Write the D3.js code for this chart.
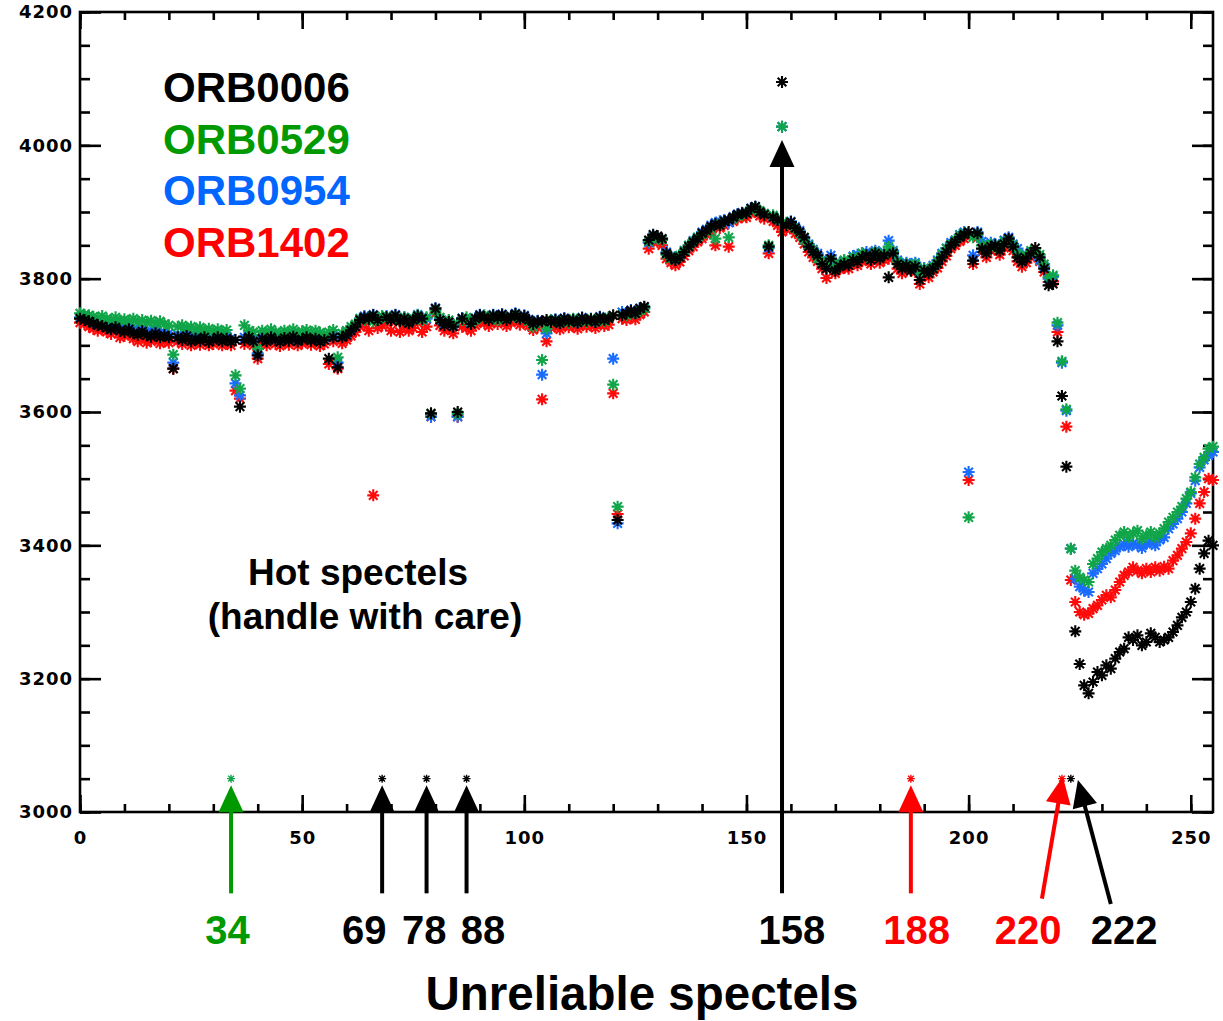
<!DOCTYPE html>
<html>
<head>
<meta charset="utf-8">
<script src="https://cdn.jsdelivr.net/npm/d3@7"></script>
<style>
  body { margin: 0; background: #fff; }
  text { font-family: "Liberation Sans", Arial, sans-serif; }
  .tick text { font-family: "DejaVu Sans", sans-serif; }
</style>
</head>
<body>
<svg id="spectels" width="1223" height="1021"></svg>
<script>

// ---- data, one value per spectel (0..255) ----
var orb0006 = [
 3740,3738,3736,3733,3730,3729,3726,3724,3727,3722,
 3720,3724,3718,3716,3721,3715,3713,3718,3712,3715,
 3712,3665,3712,3708,3714,3706,3710,3707,3712,3705,
 3708,3712,3706,3710,3705,3708,3608,3708,3712,3706,
 3685,3710,3706,3712,3708,3705,3711,3707,3713,3706,
 3709,3712,3707,3710,3705,3708,3680,3712,3667,3712,
 3715,3722,3728,3738,3742,3740,3745,3738,3050,3742,
 3738,3745,3736,3740,3733,3738,3744,3740,3050,3598,
 3755,3738,3730,3735,3728,3600,3740,3050,3732,3740,
 3745,3742,3738,3745,3741,3746,3738,3743,3747,3740,
 3744,3738,3732,3736,3736,3738,3735,3738,3733,3740,
 3736,3738,3734,3741,3737,3739,3735,3742,3738,3740,
 3745,3438,3745,3748,3752,3748,3755,3758,3858,3866,
 3864,3860,3838,3832,3828,3832,3840,3848,3855,3860,
 3868,3872,3878,3882,3880,3886,3888,3892,3896,3898,
 3898,3905,3908,3900,3896,3848,3892,3888,4095,3880,
 3885,3876,3870,3862,3848,3840,3835,3822,3815,3830,
 3812,3818,3822,3820,3828,3825,3832,3835,3828,3838,
 3830,3835,3802,3838,3822,3815,3820,3812,3818,3798,
 3812,3808,3815,3822,3832,3840,3850,3855,3862,3866,
 3870,3827,3868,3845,3838,3848,3850,3842,3852,3860,
 3848,3832,3825,3830,3838,3846,3832,3815,3790,3792,
 3706,3624,3518,3050,3271,3222,3190,3178,3195,3210,
 3205,3220,3215,3230,3240,3245,3262,3258,3265,3250,
 3255,3268,3262,3255,3258,3262,3270,3280,3292,3300,
 3315,3335,3365,3388,3407,3400
];

var orb0529 = [
 3748,3746,3745,3743,3741,3744,3740,3738,3742,3737,
 3739,3736,3740,3735,3738,3734,3737,3733,3736,3732,
 3730,3686,3728,3730,3726,3728,3724,3727,3722,3725,
 3721,3724,3720,3723,3050,3655,3635,3730,3722,3720,
 3695,3722,3718,3724,3720,3717,3722,3719,3724,3718,
 3721,3723,3718,3722,3719,3716,3720,3723,3682,3718,
 3722,3728,3732,3740,3738,3742,3736,3740,3744,3740,
 3742,3740,3738,3742,3736,3740,3745,3738,3742,3597,
 3752,3742,3735,3738,3732,3597,3738,3742,3735,3738,
 3742,3745,3740,3743,3738,3744,3740,3741,3745,3742,
 3740,3736,3728,3735,3678,3725,3738,3736,3735,3738,
 3734,3740,3736,3738,3735,3740,3737,3739,3736,3742,
 3641,3458,3746,3745,3750,3748,3752,3755,3856,3862,
 3860,3858,3836,3830,3832,3835,3842,3850,3856,3862,
 3866,3870,3875,3860,3882,3886,3862,3890,3894,3896,
 3900,3902,3906,3902,3898,3850,3895,3890,4028,3884,
 3880,3875,3868,3858,3850,3842,3830,3826,3820,3828,
 3816,3822,3828,3826,3832,3830,3838,3832,3835,3840,
 3834,3838,3848,3840,3826,3820,3822,3818,3822,3808,
 3815,3812,3818,3826,3836,3845,3852,3858,3865,3868,
 3442,3862,3866,3850,3842,3852,3848,3846,3856,3858,
 3850,3838,3830,3835,3842,3840,3836,3822,3802,3805,
 3734,3676,3604,3395,3362,3352,3348,3345,3372,3380,
 3390,3395,3400,3408,3415,3420,3412,3418,3422,3410,
 3415,3420,3412,3418,3425,3435,3442,3450,3458,3470,
 3480,3502,3522,3532,3545,3548
];

var orb0954 = [
 3742,3740,3738,3736,3733,3734,3730,3728,3731,3726,
 3727,3728,3724,3722,3726,3720,3722,3724,3718,3720,
 3718,3674,3716,3714,3718,3712,3715,3712,3716,3710,
 3713,3716,3710,3714,3710,3643,3625,3712,3715,3710,
 3688,3714,3710,3716,3712,3709,3714,3711,3716,3710,
 3713,3716,3711,3714,3709,3712,3714,3716,3674,3713,
 3718,3724,3730,3740,3744,3741,3746,3739,3742,3744,
 3740,3746,3738,3742,3735,3740,3746,3742,3740,3593,
 3756,3740,3732,3737,3730,3593,3741,3738,3734,3741,
 3746,3743,3739,3746,3742,3747,3739,3744,3748,3741,
 3745,3739,3733,3737,3656,3718,3736,3739,3734,3741,
 3737,3739,3735,3742,3738,3740,3736,3743,3739,3741,
 3680,3433,3750,3748,3753,3749,3756,3757,3854,3864,
 3862,3859,3840,3834,3830,3834,3842,3850,3857,3862,
 3870,3874,3880,3884,3886,3888,3884,3893,3897,3899,
 3899,3906,3908,3901,3897,3846,3893,3889,4028,3882,
 3886,3878,3872,3860,3852,3844,3838,3828,3822,3835,
 3818,3824,3826,3825,3834,3836,3838,3840,3834,3842,
 3836,3840,3857,3842,3828,3822,3824,3818,3824,3810,
 3816,3812,3820,3828,3838,3846,3854,3858,3866,3870,
 3510,3835,3870,3856,3848,3854,3852,3848,3858,3862,
 3852,3845,3834,3836,3840,3838,3828,3818,3800,3803,
 3730,3674,3602,3395,3350,3338,3332,3330,3358,3365,
 3372,3380,3388,3392,3398,3402,3398,3403,3400,3396,
 3402,3405,3400,3408,3412,3425,3432,3440,3450,3463,
 3478,3497,3517,3528,3535,3540
];

var orb1402 = [
 3734,3732,3728,3725,3722,3724,3720,3717,3721,3712,
 3714,3716,3710,3706,3712,3704,3706,3710,3703,3706,
 3704,3665,3706,3702,3708,3700,3704,3701,3706,3700,
 3702,3706,3700,3704,3700,3632,3620,3702,3706,3700,
 3680,3704,3700,3706,3702,3699,3704,3701,3706,3700,
 3703,3706,3701,3704,3699,3702,3672,3706,3665,3703,
 3708,3714,3720,3728,3732,3722,3475,3726,3730,3734,
 3722,3736,3720,3730,3722,3726,3734,3720,3728,3593,
 3748,3730,3722,3725,3718,3593,3728,3726,3722,3730,
 3736,3733,3729,3736,3732,3737,3729,3734,3738,3731,
 3735,3729,3723,3727,3619,3706,3726,3729,3724,3731,
 3727,3729,3725,3732,3728,3730,3726,3733,3729,3731,
 3628,3447,3740,3738,3743,3739,3746,3750,3845,3856,
 3855,3850,3830,3824,3820,3825,3834,3842,3848,3855,
 3860,3866,3870,3850,3876,3880,3848,3886,3890,3892,
 3892,3898,3900,3894,3890,3838,3886,3880,3870,3874,
 3878,3868,3862,3852,3840,3832,3826,3815,3801,3822,
 3808,3814,3816,3815,3822,3820,3826,3828,3822,3832,
 3824,3828,3830,3832,3815,3808,3812,3050,3810,3792,
 3806,3802,3810,3816,3826,3834,3845,3850,3856,3860,
 3498,3822,3862,3840,3832,3842,3844,3836,3846,3852,
 3842,3826,3818,3824,3832,3838,3826,3810,3795,3796,
 3720,3050,3578,3348,3315,3300,3296,3298,3305,3310,
 3318,3325,3322,3333,3345,3355,3360,3367,3362,3358,
 3365,3360,3367,3362,3368,3365,3377,3385,3395,3405,
 3418,3440,3463,3480,3500,3498
];

var seriesNames  = ["ORB0006", "ORB0529", "ORB0954", "ORB1402"];
var legendColors = ["#000000", "#009900", "#0066ff", "#ff0000"];
var starColors   = ["#000000", "#10a548", "#1a6cff", "#ff0a0a"];

var yMajorTicks = [3000, 3200, 3400, 3600, 3800, 4000, 4200];
var xMajorTicks = [0, 50, 100, 150, 200, 250];

// annotation arrows (hot / unreliable spectels)
var hotLabels   = ["34", "69", "78", "88", "158", "188", "220", "222"];
var hotColors   = ["#009900", "#000000", "#000000", "#000000", "#000000", "#ff0000", "#ff0000", "#000000"];
var arrowTipX   = [34, 68, 78, 87, 158, 187, 221.2, 224.6];
var arrowTipY   = [3040, 3040, 3040, 3040, 4008, 3040, 3053, 3048];
var arrowTailX  = [34, 68, 78, 87, 158, 187, 216.5, 232];
var arrowTailY  = [2878, 2878, 2878, 2878, 2878, 2878, 2870, 2862];
var hotLabelX   = [33.2, 64, 77.5, 90.7, 160.2, 188.3, 213.4, 235];


// ---- layout ----
var svg = d3.select("#spectels");

var x = d3.scaleLinear().domain([0, 255]).range([80, 1213]);
var y = d3.scaleLinear().domain([3000, 4200]).range([812, 12]);

var axisW = 2.6;

// frame
svg.append("rect")
    .attr("x", x(0)).attr("y", y(4200))
    .attr("width", x(255) - x(0)).attr("height", y(3000) - y(4200))
    .attr("fill", "none").attr("stroke", "#000").attr("stroke-width", axisW);

function styleAxis(g) {
  g.select(".domain").remove();
  g.selectAll(".tick line").attr("stroke", "#000").attr("stroke-width", axisW);
  g.selectAll(".tick text").attr("fill", "#000").attr("font-size", "18px")
    .attr("font-weight", "bold").attr("letter-spacing", "1px");
}

// left axis: major + minor, ticks pointing inward
svg.append("g").attr("transform", "translate(" + x(0) + ",0)")
    .call(d3.axisLeft(y).tickValues(d3.range(3000, 4201, 50)).tickSize(-10).tickFormat(""))
    .call(styleAxis);
svg.append("g").attr("transform", "translate(" + x(0) + ",0)")
    .call(d3.axisLeft(y).tickValues(yMajorTicks).tickSize(-21).tickPadding(7).tickFormat(d3.format("d")))
    .call(styleAxis);

// right axis mirror
svg.append("g").attr("transform", "translate(" + x(255) + ",0)")
    .call(d3.axisRight(y).tickValues(d3.range(3000, 4201, 50)).tickSize(-10).tickFormat(""))
    .call(styleAxis);
svg.append("g").attr("transform", "translate(" + x(255) + ",0)")
    .call(d3.axisRight(y).tickValues(yMajorTicks).tickSize(-21).tickFormat(""))
    .call(styleAxis);

// bottom axis
svg.append("g").attr("transform", "translate(0," + y(3000) + ")")
    .call(d3.axisBottom(x).tickValues(d3.range(0, 256, 10)).tickSize(-8).tickFormat(""))
    .call(styleAxis);
svg.append("g").attr("transform", "translate(0," + y(3000) + ")")
    .call(d3.axisBottom(x).tickValues(xMajorTicks).tickSize(-17).tickPadding(19).tickFormat(d3.format("d")))
    .call(styleAxis);

// top axis mirror
svg.append("g").attr("transform", "translate(0," + y(4200) + ")")
    .call(d3.axisTop(x).tickValues(d3.range(0, 256, 10)).tickSize(-8).tickFormat(""))
    .call(styleAxis);
svg.append("g").attr("transform", "translate(0," + y(4200) + ")")
    .call(d3.axisTop(x).tickValues(xMajorTicks).tickSize(-17).tickFormat(""))
    .call(styleAxis);


// asterisk symbol like IDL psym=2
function star(r) {
  var d = r * 0.72;
  return "M" + (-r) + ",0H" + r + "M0," + (-r) + "V" + r +
         "M" + (-d) + "," + (-d) + "L" + d + "," + d +
         "M" + (-d) + "," + d + "L" + d + "," + (-d);
}

var allSeries = [orb0006, orb0529, orb0954, orb1402];
var drawOrder = [3, 2, 1, 0];   // red, blue, green, black on top

drawOrder.forEach(function(s) {
  var g = svg.append("g").attr("class", "series s" + s);
  g.selectAll("path")
    .data(allSeries[s].map(function(v, i) { return {i: i, v: v}; }))
    .enter().append("path")
    .attr("transform", function(d) { return "translate(" + x(d.i) + "," + y(d.v) + ")"; })
    .attr("d", function(d) { return d.v <= 3060 ? star(4) : star(6); })
    .attr("fill", "none")
    .attr("stroke", starColors[s])
    .attr("stroke-width", function(d) { return d.v <= 3060 ? 1.4 : 2.1; });
});


// ---- arrows ----
var headLen = 27, headHalf = 12.5, shaftW = 4;
hotLabels.forEach(function(lab, k) {
  var x1 = x(arrowTailX[k]), y1 = y(arrowTailY[k]);
  var x2 = x(arrowTipX[k]),  y2 = y(arrowTipY[k]);
  var dx = x2 - x1, dy = y2 - y1, len = Math.sqrt(dx * dx + dy * dy);
  var ux = dx / len, uy = dy / len;
  var bx = x2 - ux * headLen, by = y2 - uy * headLen;
  svg.append("line")
    .attr("x1", x1).attr("y1", y1).attr("x2", bx + ux * 2).attr("y2", by + uy * 2)
    .attr("stroke", hotColors[k]).attr("stroke-width", shaftW);
  svg.append("path")
    .attr("d", "M" + x2 + "," + y2 +
               "L" + (bx - uy * headHalf) + "," + (by + ux * headHalf) +
               "L" + (bx + uy * headHalf) + "," + (by - ux * headHalf) + "Z")
    .attr("fill", hotColors[k]);
  svg.append("text")
    .attr("x", x(hotLabelX[k])).attr("y", 944)
    .attr("text-anchor", "middle")
    .attr("font-size", "40px").attr("font-weight", "bold")
    .attr("fill", hotColors[k])
    .text(lab);
});


// ---- legend ----
seriesNames.forEach(function(name, k) {
  svg.append("text")
    .attr("x", 163).attr("y", 102 + k * 51.5)
    .attr("font-size", "42px").attr("font-weight", "bold")
    .attr("fill", legendColors[k])
    .text(name);
});

// notes
svg.append("text").attr("x", 358).attr("y", 585)
  .attr("text-anchor", "middle").attr("font-size", "37px").attr("font-weight", "bold")
  .text("Hot spectels");
svg.append("text").attr("x", 365).attr("y", 629)
  .attr("text-anchor", "middle").attr("font-size", "37px").attr("font-weight", "bold")
  .text("(handle with care)");

// x axis title
svg.append("text").attr("x", 642).attr("y", 1010)
  .attr("text-anchor", "middle").attr("font-size", "47.5px").attr("font-weight", "bold")
  .text("Unreliable spectels");

</script>
</body>
</html>
